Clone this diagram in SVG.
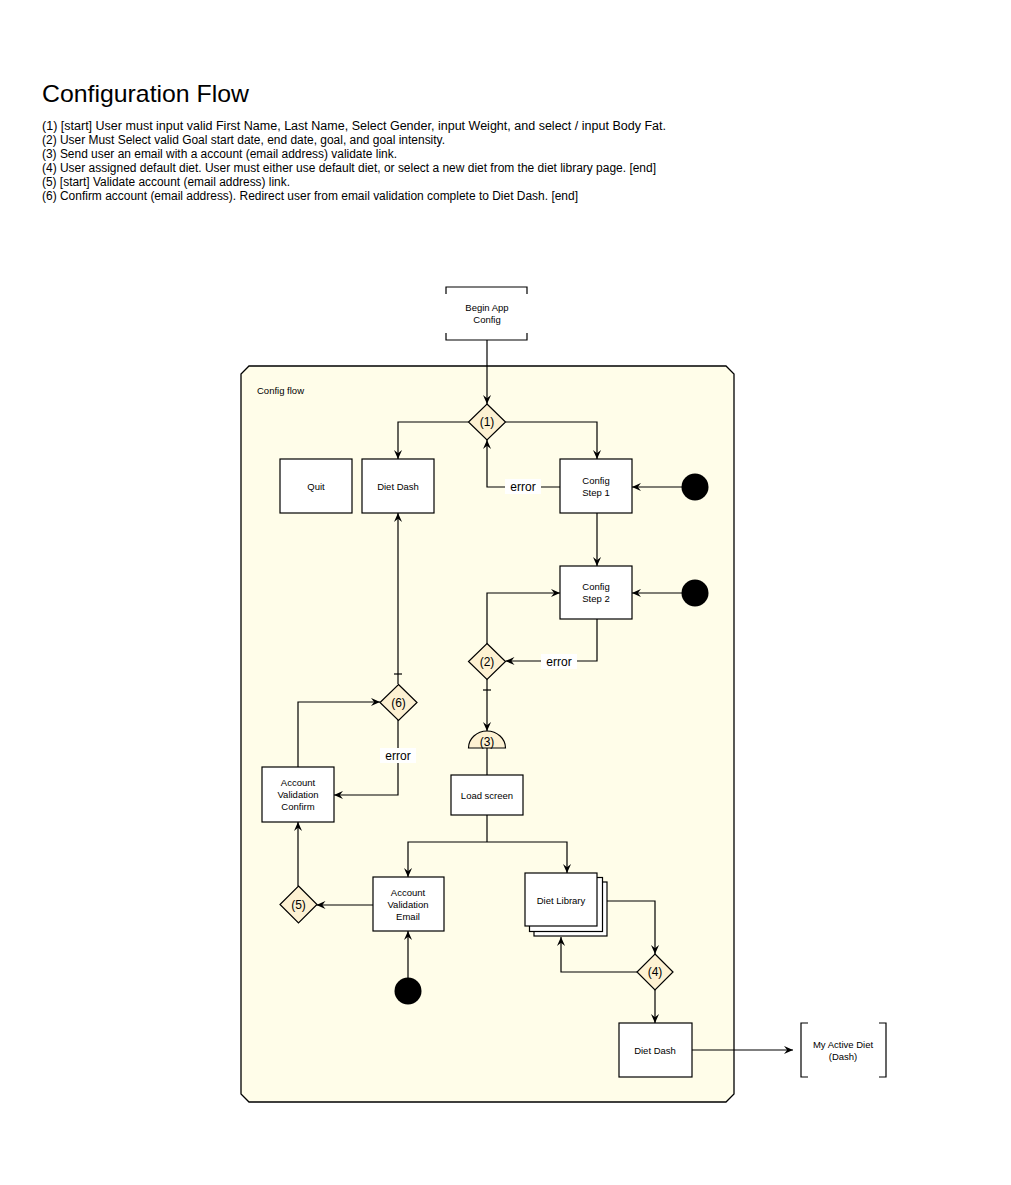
<svg xmlns="http://www.w3.org/2000/svg" width="1011" height="1185" viewBox="0 0 1011 1185">
<style>
text{font-family:"Liberation Sans",Arial,sans-serif;fill:#000}
.box{fill:#fff;stroke:#000;stroke-width:1.2}
.dia{fill:#fdf1d2;stroke:#000;stroke-width:1.2}
.lbl{font-size:9.5px;text-anchor:middle}
.dl{font-size:12px;text-anchor:middle}
.edge{fill:none;stroke:#000;stroke-width:1.2}
.arr{marker-end:url(#ah)}
.eb{fill:#fff;stroke:none}
.desc{font-size:12px}
</style>
<defs>
<marker id="ah" viewBox="0 0 10 10" refX="10" refY="5" markerWidth="9" markerHeight="9" markerUnits="userSpaceOnUse" orient="auto">
<path d="M0,0.5 L10,5 L0,9.5 L3.5,5 z" fill="#000"/>
</marker>
</defs>
<rect width="1011" height="1185" fill="#fff"/>
<g id="title">
<text x="42" y="102" font-size="24" textLength="207" lengthAdjust="spacingAndGlyphs">Configuration Flow</text>
<text class="desc" x="42" y="130" textLength="624" lengthAdjust="spacingAndGlyphs">(1) [start] User must input valid First Name, Last Name, Select Gender, input Weight, and select / input Body Fat.</text>
<text class="desc" x="42" y="144" textLength="403" lengthAdjust="spacingAndGlyphs">(2) User Must Select valid Goal start date, end date, goal, and goal intensity.</text>
<text class="desc" x="42" y="158" textLength="355" lengthAdjust="spacingAndGlyphs">(3) Send user an email with a account (email address) validate link.</text>
<text class="desc" x="42" y="172" textLength="614" lengthAdjust="spacingAndGlyphs">(4) User assigned default diet. User must either use default diet, or select a new diet from the diet library page. [end]</text>
<text class="desc" x="42" y="186" textLength="248" lengthAdjust="spacingAndGlyphs">(5) [start] Validate account (email address) link.</text>
<text class="desc" x="42" y="200" textLength="536" lengthAdjust="spacingAndGlyphs">(6) Confirm account (email address). Redirect user from email validation complete to Diet Dash. [end]</text>
</g>
<g id="container">
<path d="M249,366 L726,366 L734,374 L734,1094 L726,1102 L249,1102 L241,1094 L241,374 z" fill="#fffde9" stroke="#000" stroke-width="1.3"/>
<text x="257" y="394" font-size="9.5">Config flow</text>
</g>
<g id="connectors">
<path class="edge arr" d="M487,340 L487,404"/>
<path class="edge arr" d="M468.5,422 L398,422 L398,459"/>
<path class="edge arr" d="M505.5,422 L597,422 L597,459"/>
<path class="edge arr" d="M560,487 L487,487 L487,440"/>
<rect class="eb" x="505" y="479" width="36" height="15"/>
<text class="dl" x="523" y="491">error</text>
<path class="edge arr" d="M682,487 L632,487"/>
<path class="edge arr" d="M597,513 L597,566"/>
<path class="edge arr" d="M682,593 L632,593"/>
<path class="edge arr" d="M487,644 L487,593 L560,593"/>
<path class="edge arr" d="M597,619 L597,661 L505.5,661"/>
<rect class="eb" x="541" y="654" width="36" height="15"/>
<text class="dl" x="559" y="666">error</text>
<path class="edge arr" d="M487,679 L487,731"/>
<path class="edge" d="M483,690 L491,690"/>
<path class="edge" d="M487,748 L487,775"/>
<path class="edge" d="M487,815 L487,842"/>
<path class="edge arr" d="M487,842 L408,842 L408,877"/>
<path class="edge arr" d="M487,842 L567,842 L567,873"/>
<path class="edge arr" d="M408,978 L408,931"/>
<path class="edge arr" d="M373,905 L316.5,905"/>
<path class="edge arr" d="M298,886 L298,822"/>
<path class="edge arr" d="M298,767 L298,702 L380,702"/>
<path class="edge arr" d="M398,684 L398,513"/>
<path class="edge" d="M394,674 L402,674"/>
<path class="edge arr" d="M398,720 L398,795 L334,795"/>
<rect class="eb" x="380" y="748" width="36" height="15"/>
<text class="dl" x="398" y="760">error</text>
<path class="edge arr" d="M607,901 L655,901 L655,954"/>
<path class="edge arr" d="M637,972 L561,972 L561,937"/>
<path class="edge arr" d="M655,990 L655,1023"/>
<path class="edge arr" d="M692,1050 L793,1050"/>
</g>
<g id="begin">
<rect x="446" y="287" width="81" height="53" fill="#fff"/>
<path class="edge" d="M446,294 L446,287 L527,287 L527,294 M446,333 L446,340 L527,340 L527,333"/>
<text class="lbl" x="487" y="311">Begin App</text>
<text class="lbl" x="487" y="323">Config</text>
</g>
<g id="d1"><path class="dia" d="M487,404 L505.5,422 L487,440 L468.5,422 z"/><text class="dl" x="487" y="426">(1)</text></g>
<g id="quit"><rect class="box" x="280" y="459" width="72" height="54"/><text class="lbl" x="316" y="490">Quit</text></g>
<g id="dietdash1"><rect class="box" x="362" y="459" width="72" height="54"/><text class="lbl" x="398" y="490">Diet Dash</text></g>
<g id="step1"><rect class="box" x="560" y="459" width="72" height="54"/><text class="lbl" x="596" y="484">Config</text><text class="lbl" x="596" y="496">Step 1</text></g>
<g id="dot1"><circle cx="695" cy="487" r="13.5" fill="#000"/></g>
<g id="step2"><rect class="box" x="560" y="566" width="72" height="53"/><text class="lbl" x="596" y="590">Config</text><text class="lbl" x="596" y="602">Step 2</text></g>
<g id="dot2"><circle cx="695" cy="593" r="13.5" fill="#000"/></g>
<g id="d2"><path class="dia" d="M487,643.5 L505.5,661.5 L487,679.5 L468.5,661.5 z"/><text class="dl" x="487" y="666">(2)</text></g>
<g id="d3"><path class="dia" d="M468.5,748 A18.5,17 0 0 1 505.5,748 z"/><text class="dl" x="487" y="746">(3)</text></g>
<g id="load"><rect class="box" x="451" y="775" width="72" height="40"/><text class="lbl" x="487" y="799">Load screen</text></g>
<g id="email"><rect class="box" x="373" y="877" width="71" height="54"/><text class="lbl" x="408" y="896">Account</text><text class="lbl" x="408" y="908">Validation</text><text class="lbl" x="408" y="920">Email</text></g>
<g id="dot3"><circle cx="408" cy="991" r="13.5" fill="#000"/></g>
<g id="d5"><path class="dia" d="M298.5,886 L317,904.5 L298.5,923 L280,904.5 z"/><text class="dl" x="298.5" y="909">(5)</text></g>
<g id="confirm"><rect class="box" x="262" y="767" width="72" height="55"/><text class="lbl" x="298" y="786">Account</text><text class="lbl" x="298" y="798">Validation</text><text class="lbl" x="298" y="810">Confirm</text></g>
<g id="d6"><path class="dia" d="M398.5,684.5 L417,702.5 L398.5,720.5 L380,702.5 z"/><text class="dl" x="398.5" y="707">(6)</text></g>
<g id="library">
<rect class="box" x="534" y="882" width="73" height="54"/>
<rect class="box" x="529.5" y="877.5" width="73" height="54"/>
<rect class="box" x="525" y="873" width="72" height="53"/>
<text class="lbl" x="561" y="904">Diet Library</text>
</g>
<g id="d4"><path class="dia" d="M655,954 L673,972 L655,990 L637,972 z"/><text class="dl" x="655" y="976">(4)</text></g>
<g id="dietdash2"><rect class="box" x="619" y="1023" width="73" height="54"/><text class="lbl" x="655" y="1054">Diet Dash</text></g>
<g id="active">
<rect x="801" y="1023" width="85" height="54" fill="#fff"/>
<path class="edge" d="M808,1023 L801,1023 L801,1077 L808,1077 M879,1023 L886,1023 L886,1077 L879,1077"/>
<text class="lbl" x="843" y="1048">My Active Diet</text>
<text class="lbl" x="843" y="1060">(Dash)</text>
</g>
</svg>
